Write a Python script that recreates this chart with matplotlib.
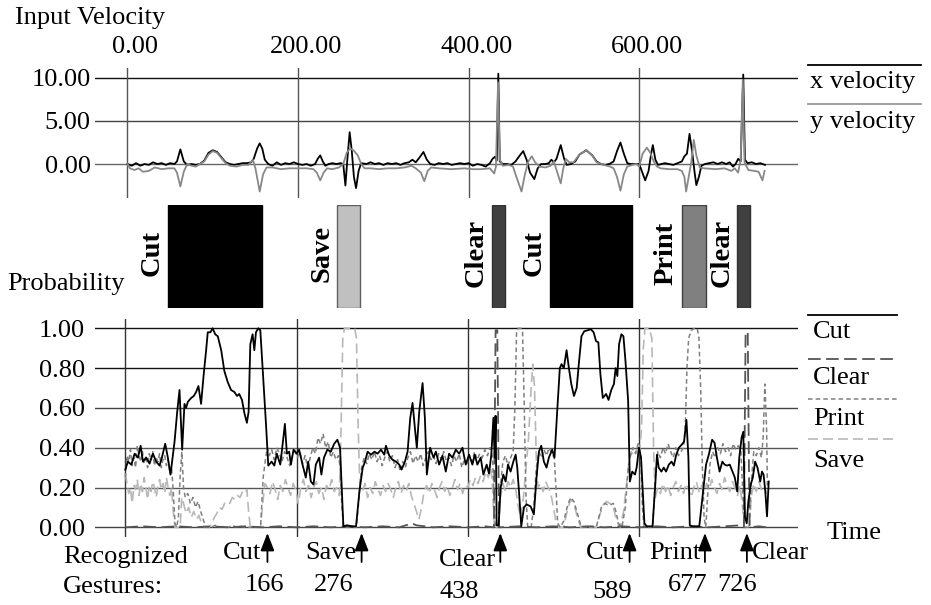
import numpy as np
import matplotlib
matplotlib.use('Agg')
import matplotlib.pyplot as plt
from matplotlib import transforms
from matplotlib.lines import Line2D

plt.rcParams['font.family'] = ['Liberation Serif', 'DejaVu Serif']
plt.rcParams['font.size'] = 19

# ---- data ----
# input velocity: (time, value)
x_vel_pts = [(0, 0.0), (5, -0.2), (10, 0.1), (15, -0.2), (20, 0.0), (25, -0.1), (30, 0.2), (35, 0.0),
             (40, 0.1), (45, -0.1), (50, 0.1), (55, 0.0), (58, 0.3), (62, 1.7), (66, 0.3), (70, -0.1),
             (75, 0.0), (80, -0.1), (85, 0.0), (90, 0.4), (95, 1.3), (100, 1.6), (105, 1.4), (110, 0.8),
             (115, 0.2), (120, 0.0), (125, -0.1), (130, 0.0), (135, 0.1), (140, 0.1), (145, 0.2), (148, 0.6),
             (152, 1.8), (155, 2.4), (158, 1.8), (161, 0.5), (165, 0.0), (170, -0.2), (175, 0.2), (180, -0.1),
             (185, 0.1), (190, 0.0), (195, 0.2), (200, 0.0), (205, -0.1), (210, 0.0), (215, -0.2), (220, 0.0),
             (223, 0.6), (226, 1.0), (229, 0.3), (232, -0.2), (236, 0.0), (240, 0.1), (245, 0.0), (250, 0.1),
             (253, 0.0), (255.5, -2.5), (258, 0.8), (260.5, 3.7), (263, 1.5), (265.5, -1.5), (268, -2.8),
             (271, -0.8), (274, 0.1), (280, 0.0), (285, 0.2), (290, 0.0), (295, 0.1), (300, -0.1), (305, 0.1),
             (310, 0.0), (315, 0.1), (320, -0.1), (325, 0.1), (330, 0.2), (334, 0.5), (338, 0.2), (342, 0.7),
             (347, 1.4), (351, 0.5), (355, 0.0), (360, -0.1), (365, 0.1), (370, 0.0), (375, 0.1), (380, -0.1),
             (385, 0.0), (390, 0.1), (395, 0.0), (400, 0.1), (405, -0.2), (410, 0.0), (415, -0.1), (420, -0.3),
             (425, 0.1), (428, 0.6), (431, 0.85), (433, 0.4), (434.8, 10.5), (436.5, 0.3), (440, 0.0),
             (445, 0.0), (450, -0.1), (455, 0.3), (460, 1.0), (464, 1.5), (468, 0.5), (472, -1.0), (477, -1.75),
             (481, -0.5), (485, 0.0), (490, 0.0), (494, 0.1), (497, 0.5), (500, 0.2), (503, 0.6), (508, 2.2),
             (512, 0.6), (515, -0.1), (520, 0.0), (525, 0.3), (530, 1.1), (538, 1.6), (545, 1.0), (550, 0.3),
             (555, 0.0), (560, -0.1), (565, 0.0), (570, 0.3), (574, 1.5), (578, 2.5), (582, 1.2), (586, 0.1),
             (590, 0.0), (595, 0.0), (600, 0.0), (603, -0.8), (607, -1.9), (611, -0.8), (614, 1.2), (616, 2.2),
             (619, 0.5), (622, -0.1), (626, 0.0), (630, 0.1), (635, 0.0), (640, -0.1), (645, 0.1), (650, 0.3),
             (653, 0.9), (656, 1.2), (659, 3.5), (662, 1.5), (665, -1.0), (667, -2.45), (670, -1.5),
             (673, -0.2), (677, 0.0), (682, 0.1), (687, 0.2), (692, 0.0), (697, 0.2), (702, 0.0), (706, 0.2),
             (710, -0.3), (713, 0.0), (716, 0.6), (719, 0.3), (722, 10.4), (724, 0.5), (727, 0.1), (732, 0.2),
             (737, 0.0), (742, 0.1), (747.5, -0.1)]

y_vel_pts = [(0, 0.0), (3, -0.5), (8, -0.7), (13, -0.5), (18, -0.9), (25, -0.8), (32, -0.4), (40, -0.6),
             (48, -0.5), (55, -0.5), (58, -1.0), (62, -2.6), (66, -0.9), (70, 0.0), (75, -0.2), (80, -0.3),
             (85, 0.0), (90, 0.3), (95, 1.1), (100, 1.5), (105, 1.3), (110, 0.7), (115, 0.1), (120, -0.2),
             (128, -0.3), (135, -0.1), (142, -0.1), (147, 0.5), (150, -0.5), (155, -3.2), (159, -1.2),
             (163, -0.4), (170, -0.4), (180, -0.6), (190, -0.5), (200, -0.5), (210, -0.5), (218, -0.6),
             (222, -1.0), (226, -1.9), (230, -1.0), (234, -0.5), (240, -0.6), (248, -0.4), (253, 0.0),
             (257, 1.3), (261, 1.8), (265, 1.6), (270, 1.0), (274, 0.0), (278, -0.5), (285, -0.5), (295, -0.6),
             (305, -0.5), (315, -0.5), (325, -0.4), (333, -0.2), (338, -0.5), (344, -1.0), (348, -2.0),
             (352, -0.8), (356, -0.4), (365, -0.5), (380, -0.6), (395, -0.5), (405, -0.6), (415, -0.6),
             (425, -0.5), (430, -1.1), (432, -0.3), (434.5, 9.5), (436.5, 0.5), (440, -0.2), (447, -0.1),
             (452, -0.3), (456, -1.5), (462, -3.2), (466, -1.2), (470, 0.3), (474, 0.9), (478, 0.2),
             (483, -0.3), (490, -0.4), (496, -0.2), (500, 0.3), (504, -1.0), (508, -2.25), (511, -0.5),
             (514, 0.6), (518, 0.2), (523, 0.2), (530, 1.1), (538, 1.6), (545, 1.0), (550, 0.2), (556, 0.0),
             (562, -0.2), (566, -0.3), (570, -0.5), (574, -1.5), (578, -3.1), (582, -1.2), (586, -0.3),
             (592, -0.1), (597, 0.0), (600, -0.3), (604, 1.2), (609, 1.9), (613, 1.3), (617, 0.3), (621, -0.3),
             (625, -0.5), (635, -0.6), (645, -0.6), (650, -0.8), (653, -1.5), (655, -3.2), (658, -1.5),
             (661, 0.2), (664, 2.8), (667, 1.0), (671, -0.4), (676, -0.5), (690, -0.6), (700, -0.5),
             (708, -0.8), (712, -0.5), (716, -1.0), (719, 0.5), (721.5, 9.8), (723.5, 0.2), (728, -0.7),
             (735, -0.8), (740, -0.9), (744.5, -1.9), (747, -0.8)]

# gesture probabilities: (time, probability)
cut_pts = [(0, 0.29), (3, 0.33), (7, 0.315), (10.9, 0.37), (14.8, 0.35), (17.9, 0.41), (20.6, 0.33),
           (24.5, 0.35), (28.3, 0.32), (32.2, 0.37), (36.1, 0.33), (40, 0.31), (42.7, 0.35), (46.6, 0.42),
           (49.7, 0.35), (52.8, 0.265), (57.5, 0.43), (60.6, 0.58), (63.3, 0.69), (66.4, 0.39), (69.1, 0.62),
           (71, 0.60), (73, 0.63), (76.9, 0.65), (80, 0.66), (82.7, 0.68), (85.4, 0.71), (88.5, 0.62),
           (91.6, 0.77), (94.4, 0.89), (96.3, 0.98), (99.4, 0.98), (102, 1.0), (105, 0.97), (108, 0.96),
           (112, 0.89), (115.7, 0.785), (119.6, 0.73), (123.5, 0.69), (127.4, 0.68), (130.5, 0.66),
           (133, 0.67), (136.3, 0.64), (139, 0.575), (142, 0.525), (144, 0.58), (146, 0.92), (148.7, 0.97),
           (150.7, 0.89), (152.6, 0.98), (155.3, 1.0), (157.7, 0.99), (160.4, 0.80), (164.3, 0.52),
           (167, 0.31), (170.9, 0.33), (174, 0.31), (177, 0.37), (181, 0.315), (183.7, 0.415), (186.4, 0.52),
           (188.7, 0.37), (191.4, 0.38), (193.4, 0.315), (196.5, 0.39), (200, 0.37), (203, 0.39),
           (207, 0.315), (210.8, 0.25), (213.6, 0.33), (216.7, 0.23), (219.8, 0.215), (222.5, 0.315),
           (226.4, 0.35), (229, 0.265), (232, 0.35), (236, 0.39), (240, 0.38), (244, 0.42), (247.7, 0.44),
           (250.8, 0.40), (254.7, 0.005), (259, 0.01), (265, 0.005), (269.5, 0.005), (273.4, 0.18),
           (277.3, 0.30), (280, 0.33), (283, 0.38), (287, 0.365), (291, 0.38), (294.7, 0.37), (298.6, 0.39),
           (302.5, 0.365), (304.4, 0.41), (308.3, 0.36), (312, 0.34), (316, 0.33), (320, 0.315),
           (322.7, 0.29), (326.6, 0.33), (329.7, 0.38), (332.8, 0.55), (335.5, 0.625), (338.2, 0.50),
           (340.5, 0.40), (343.3, 0.58), (347.2, 0.725), (349.9, 0.55), (352.2, 0.265), (356, 0.40),
           (360, 0.35), (362.7, 0.38), (366.6, 0.315), (370.4, 0.36), (374.3, 0.28), (378.2, 0.37),
           (382.1, 0.35), (386, 0.39), (389.9, 0.37), (393.8, 0.40), (397.6, 0.315), (401.5, 0.365),
           (405.4, 0.315), (408.1, 0.365), (411.2, 0.315), (415.1, 0.35), (418.2, 0.265), (422.1, 0.315),
           (424.8, 0.27), (427.5, 0.365), (429.9, 0.55), (431.4, 0.35), (432.6, 0.56), (433.7, 0.01),
           (436, 0.01), (438.4, 0.20), (441.5, 0.265), (444.2, 0.23), (447, 0.315), (450, 0.28),
           (453.2, 0.33), (455.9, 0.365), (457.8, 0.30), (459.8, 0.18), (462.5, 0.005), (465.6, 0.10),
           (468.7, 0.115), (473.4, 0.105), (477.2, 0.065), (480.3, 0.25), (483.1, 0.38), (485.8, 0.41),
           (488.9, 0.33), (492, 0.30), (494.7, 0.35), (498.6, 0.39), (501.3, 0.35), (504.4, 0.58),
           (507.5, 0.80), (509.5, 0.82), (512.2, 0.80), (515.4, 0.89), (518.1, 0.80), (520.9, 0.72),
           (524, 0.66), (527.2, 0.70), (530, 0.835), (532.8, 0.96), (536, 0.985), (539.9, 0.99),
           (543.8, 0.995), (547, 0.98), (549.8, 0.935), (552.5, 0.93), (554.9, 0.77), (557.7, 0.65),
           (561.6, 0.67), (564.4, 0.64), (567.6, 0.69), (570.7, 0.72), (572.7, 0.80), (574.7, 0.76),
           (576.7, 0.92), (579.4, 0.97), (581.8, 0.96), (584.2, 0.835), (587.3, 0.635), (589.3, 0.23),
           (592.1, 0.28), (595.3, 0.265), (597.2, 0.30), (600, 0.40), (602.4, 0.35), (604, 0.215),
           (606.3, 0.02), (609.1, 0.005), (615.8, 0.005), (619, 0.215), (621, 0.365), (623, 0.30),
           (626.1, 0.28), (628.9, 0.30), (631.6, 0.28), (634.8, 0.315), (638, 0.33), (640.7, 0.31),
           (643.5, 0.365), (646.7, 0.40), (649.8, 0.415), (652.6, 0.43), (655.4, 0.54), (657.7, 0.35),
           (659.3, 0.01), (662.5, 0.005), (670.4, 0.005), (674.4, 0.16), (678.3, 0.315), (681.5, 0.365),
           (685.4, 0.44), (688.2, 0.425), (691, 0.35), (694.1, 0.28), (697.3, 0.33), (700, 0.315),
           (702.8, 0.31), (706, 0.315), (709.2, 0.28), (711.9, 0.25), (714.7, 0.18), (717.1, 0.35),
           (719.8, 0.45), (721.8, 0.48), (723.8, 0.05), (725.8, 0.02), (727.7, 0.13), (730.5, 0.215),
           (732.9, 0.25), (735.6, 0.33), (738.4, 0.30), (741.6, 0.23), (743.6, 0.28), (745.5, 0.265),
           (747.5, 0.18), (749.5, 0.055), (751.5, 0.23)]

clear_pts = [(0, 0.0), (20, 0.005), (40, 0.0), (60, 0.005), (80, 0.0), (100, 0.005), (120, 0.0),
             (140, 0.005), (160, 0.0), (180, 0.005), (200, 0.0), (220, 0.005), (240, 0.0), (260, 0.005),
             (280, 0.0), (300, 0.005), (320, 0.0), (335, 0.02), (340, 0.01), (360, 0.0), (380, 0.005),
             (400, 0.0), (420, 0.005), (430.5, 0.0), (431.5, 0.5), (432.5, 0.99), (434.5, 0.99), (435.5, 0.5),
             (436.5, 0.0), (460, 0.005), (480, 0.0), (500, 0.005), (520, 0.0), (540, 0.005), (560, 0.0),
             (580, 0.005), (600, 0.0), (620, 0.005), (640, 0.0), (660, 0.005), (680, 0.0), (700, 0.005),
             (718, 0.01), (722.5, 0.0), (723.5, 0.5), (724.5, 0.98), (727, 0.98), (728, 0.5), (729, 0.0),
             (740, 0.005), (749, 0.0)]

print_pts = [(0, 0.25), (2, 0.36), (4, 0.33), (6, 0.39), (8, 0.31), (10, 0.35), (12, 0.30), (14, 0.41),
             (16, 0.36), (18, 0.33), (20, 0.38), (22, 0.32), (24, 0.36), (26, 0.30), (28, 0.37), (30, 0.34),
             (32, 0.38), (34, 0.31), (36, 0.35), (38, 0.33), (40, 0.37), (42, 0.30), (44, 0.34), (46, 0.36),
             (48, 0.31), (50, 0.34), (52, 0.27), (54, 0.30), (56, 0.18), (58, 0.02), (60, 0.0), (62, 0.05),
             (64, 0.25), (66, 0.38), (68, 0.20), (70, 0.15), (73, 0.17), (76, 0.12), (79, 0.15), (82, 0.10),
             (85, 0.13), (88, 0.08), (91, 0.04), (94, 0.0), (100, 0.0), (105, 0.01), (110, 0.0), (115, 0.005),
             (120, 0.0), (125, 0.01), (130, 0.0), (135, 0.005), (140, 0.0), (158, 0.0), (161, 0.25),
             (164, 0.35), (166, 0.40), (168, 0.36), (171, 0.39), (174, 0.34), (177, 0.40), (180, 0.37),
             (183, 0.33), (186, 0.38), (189, 0.35), (192, 0.31), (195, 0.36), (198, 0.40), (201, 0.35),
             (204, 0.38), (207, 0.32), (210, 0.36), (213, 0.30), (216, 0.35), (219, 0.40), (222, 0.37),
             (225, 0.45), (228, 0.42), (231, 0.47), (234, 0.40), (237, 0.43), (240, 0.35), (243, 0.38),
             (246, 0.34), (249, 0.36), (251, 0.30), (253, 0.10), (255, 0.0), (270, 0.0), (273, 0.15),
             (276, 0.30), (279, 0.35), (282, 0.32), (285, 0.37), (288, 0.34), (291, 0.38), (294, 0.33),
             (297, 0.36), (300, 0.31), (303, 0.35), (306, 0.38), (309, 0.33), (312, 0.36), (315, 0.30),
             (318, 0.34), (321, 0.28), (324, 0.33), (327, 0.30), (330, 0.35), (333, 0.38), (336, 0.32),
             (339, 0.36), (342, 0.33), (345, 0.37), (348, 0.31), (351, 0.35), (354, 0.38), (357, 0.34),
             (360, 0.36), (363, 0.32), (366, 0.37), (369, 0.34), (372, 0.38), (375, 0.33), (378, 0.35),
             (381, 0.31), (384, 0.36), (387, 0.33), (390, 0.37), (393, 0.30), (396, 0.34), (399, 0.32),
             (402, 0.36), (405, 0.33), (408, 0.38), (411, 0.34), (414, 0.37), (417, 0.35), (420, 0.39),
             (423, 0.36), (426, 0.40), (429, 0.35), (431, 0.10), (432, 0.0), (436, 0.0), (438, 0.20),
             (441, 0.33), (444, 0.36), (447, 0.31), (450, 0.35), (453, 0.38), (455, 0.60), (457, 0.98),
             (459, 1.0), (462, 1.0), (464, 0.98), (466, 0.60), (468, 0.15), (470, 0.0), (474, 0.0),
             (477, 0.10), (480, 0.30), (483, 0.38), (486, 0.35), (489, 0.39), (492, 0.36), (495, 0.40),
             (498, 0.37), (501, 0.35), (503, 0.20), (505, 0.02), (508, 0.0), (512, 0.03), (516, 0.10),
             (520, 0.15), (524, 0.13), (528, 0.07), (532, 0.01), (536, 0.0), (545, 0.005), (550, 0.0),
             (553, 0.05), (556, 0.10), (560, 0.12), (565, 0.11), (570, 0.12), (573, 0.08), (576, 0.02),
             (580, 0.0), (584, 0.10), (587, 0.28), (590, 0.36), (593, 0.40), (596, 0.37), (599, 0.42),
             (602, 0.35), (604, 0.10), (606, 0.0), (616, 0.0), (619, 0.25), (622, 0.38), (625, 0.35),
             (628, 0.40), (631, 0.37), (634, 0.42), (637, 0.38), (640, 0.35), (643, 0.40), (646, 0.36),
             (649, 0.38), (652, 0.40), (654, 0.50), (656, 0.80), (658, 0.95), (661, 0.99), (665, 1.0),
             (668, 1.0), (670, 0.95), (672, 0.70), (674, 0.30), (676, 0.05), (678, 0.0), (680, 0.15),
             (683, 0.32), (686, 0.38), (689, 0.35), (692, 0.40), (695, 0.37), (698, 0.42), (701, 0.38),
             (704, 0.40), (707, 0.36), (710, 0.42), (713, 0.39), (716, 0.41), (719, 0.38), (721, 0.20),
             (723, 0.0), (729, 0.0), (731, 0.22), (734, 0.38), (737, 0.36), (740, 0.40), (743, 0.35),
             (745, 0.45), (747, 0.72), (749, 0.50), (750, 0.20)]

save_pts = [(0, 0.27), (2, 0.22), (4, 0.17), (6, 0.20), (8, 0.12), (10, 0.21), (12, 0.19), (14, 0.24),
            (16, 0.16), (18, 0.22), (20, 0.18), (22, 0.25), (24, 0.20), (26, 0.14), (28, 0.21), (30, 0.18),
            (32, 0.23), (34, 0.20), (36, 0.15), (38, 0.20), (40, 0.24), (42, 0.19), (44, 0.22), (46, 0.17),
            (48, 0.25), (50, 0.20), (52, 0.16), (54, 0.20), (56, 0.08), (58, 0.0), (64, 0.0), (66, 0.15),
            (68, 0.12), (71, 0.07), (74, 0.10), (77, 0.05), (80, 0.08), (83, 0.04), (86, 0.06), (89, 0.02),
            (92, 0.0), (98, 0.0), (101, 0.02), (104, 0.05), (107, 0.07), (110, 0.10), (113, 0.09),
            (116, 0.12), (119, 0.13), (122, 0.12), (125, 0.15), (128, 0.14), (131, 0.16), (134, 0.15),
            (137, 0.18), (140, 0.17), (142, 0.19), (144, 0.08), (146, 0.0), (158, 0.0), (160, 0.10),
            (163, 0.22), (166, 0.20), (169, 0.17), (172, 0.23), (175, 0.19), (178, 0.14), (181, 0.21),
            (184, 0.18), (187, 0.24), (190, 0.20), (193, 0.16), (196, 0.22), (199, 0.19), (202, 0.12),
            (205, 0.20), (208, 0.24), (211, 0.18), (214, 0.21), (217, 0.15), (220, 0.20), (223, 0.23),
            (226, 0.17), (229, 0.20), (232, 0.14), (235, 0.21), (238, 0.19), (241, 0.24), (244, 0.18),
            (247, 0.20), (250, 0.16), (252, 0.50), (254, 0.95), (256, 1.0), (262, 1.0), (268, 1.0),
            (270, 0.95), (272, 0.50), (274, 0.20), (277, 0.18), (280, 0.22), (283, 0.15), (286, 0.20),
            (289, 0.17), (292, 0.23), (295, 0.19), (298, 0.16), (301, 0.21), (304, 0.18), (307, 0.22),
            (310, 0.19), (313, 0.15), (316, 0.20), (319, 0.23), (322, 0.17), (325, 0.21), (328, 0.18),
            (331, 0.22), (334, 0.16), (337, 0.12), (340, 0.08), (343, 0.04), (346, 0.10), (349, 0.18),
            (352, 0.21), (355, 0.17), (358, 0.22), (361, 0.19), (364, 0.15), (367, 0.20), (370, 0.23),
            (373, 0.18), (376, 0.21), (379, 0.16), (382, 0.20), (385, 0.24), (388, 0.19), (391, 0.22),
            (394, 0.17), (397, 0.21), (400, 0.20), (403, 0.24), (406, 0.21), (409, 0.25), (412, 0.22),
            (415, 0.26), (418, 0.23), (421, 0.28), (424, 0.25), (427, 0.30), (429, 0.20), (431, 0.0),
            (436, 0.0), (438, 0.15), (441, 0.22), (444, 0.18), (447, 0.23), (450, 0.20), (453, 0.24),
            (456, 0.19), (459, 0.10), (462, 0.05), (465, 0.15), (468, 0.30), (471, 0.45), (474, 0.70),
            (476, 0.82), (478, 0.70), (480, 0.35), (482, 0.20), (485, 0.22), (488, 0.18), (491, 0.23),
            (494, 0.20), (497, 0.17), (500, 0.10), (503, 0.03), (506, 0.0), (512, 0.0), (516, 0.08),
            (520, 0.14), (524, 0.12), (528, 0.05), (532, 0.0), (550, 0.0), (554, 0.06), (558, 0.11),
            (562, 0.13), (566, 0.12), (570, 0.10), (574, 0.03), (578, 0.0), (582, 0.08), (585, 0.20),
            (588, 0.32), (591, 0.38), (594, 0.36), (597, 0.39), (600, 0.35), (603, 0.50), (605, 0.90),
            (607, 1.0), (612, 1.0), (615, 0.95), (617, 0.40), (619, 0.15), (622, 0.20), (625, 0.17),
            (628, 0.22), (631, 0.18), (634, 0.21), (637, 0.16), (640, 0.20), (643, 0.23), (646, 0.18),
            (649, 0.21), (652, 0.17), (655, 0.22), (658, 0.19), (661, 0.15), (664, 0.20), (667, 0.23),
            (670, 0.18), (673, 0.21), (676, 0.17), (679, 0.22), (682, 0.19), (685, 0.24), (688, 0.20),
            (691, 0.17), (694, 0.22), (697, 0.19), (700, 0.25), (703, 0.21), (706, 0.18), (709, 0.23),
            (712, 0.20), (715, 0.16), (718, 0.21), (721, 0.10), (723, 0.0), (729, 0.0), (731, 0.15),
            (734, 0.22), (737, 0.18), (740, 0.23), (743, 0.19), (746, 0.21), (749, 0.17)]

# gesture segments (bars) and recognition times
gest_names = ['Cut', 'Save', 'Clear', 'Cut', 'Print', 'Clear']
gest_start = [47, 246, 427, 495, 650, 715]
gest_end = [158, 273, 443, 592, 678, 730]
rec_time = [166, 276, 438, 589, 677, 726]

vel_ticks = [0, 5, 10]
prob_ticks = [0.0, 0.2, 0.4, 0.6, 0.8, 1.0]
time_ticks = [0, 200, 400, 600]

# ---- styles ----
bar_face = ['black', '#c0c0c0', '#404040', 'black', '#808080', '#404040']
bar_edge = ['black', '#606060', '#303030', 'black', '#404040', '#303030']
series_style = {
    'Cut': dict(color='black', ls='-', lw=1.3),
    'Clear': dict(color='#555555', ls=(0, (7, 3)), lw=1.3),
    'Print': dict(color='#808080', ls=(0, (3, 2)), lw=1.1),
    'Save': dict(color='#b8b8b8', ls=(0, (6, 3)), lw=1.2),
}

W, H = 931, 605


def fx(x):
    return x / W


def fy(y):
    return 1 - y / H


fig = plt.figure(figsize=(W / 100, H / 100), dpi=100)

ax_v = fig.add_axes([fx(95), fy(198), 703 / W, 130 / H])
ax_g = fig.add_axes([fx(95), fy(308), 703 / W, 103 / H])
ax_p = fig.add_axes([fx(95), fy(537), 703 / W, 218 / H])

for ax in (ax_v, ax_g, ax_p):
    for s in ax.spines.values():
        s.set_visible(False)

# ---- velocity panel ----
ax_v.set_xlim(-38.1, 786.2)
ax_v.set_ylim(-3.95, 11.16)
for v, c in zip(vel_ticks, ['#666666', '#444444', '#111111']):
    ax_v.axhline(v, color=c, lw=1, zorder=1)
for t in time_ticks:
    ax_v.axvline(t, color='#555555', lw=1, zorder=1)
xt, xv = np.array(x_vel_pts).T
yt, yv = np.array(y_vel_pts).T
ax_v.plot(xt, xv, color='black', lw=1.3, zorder=3)
ax_v.plot(yt, yv, color='#888888', lw=1.3, zorder=4)
ax_v.set_yticks(vel_ticks)
ax_v.set_yticklabels(['%.2f' % v for v in vel_ticks])
ax_v.set_xticks([])
ax_v.tick_params(axis='y', length=0, pad=3)
for t in time_ticks:
    ax_v.annotate('%.2f' % t, xy=(t, 1), xycoords=('data', 'axes fraction'),
                  xytext=(8, 15), textcoords='offset pixels', ha='center', va='baseline')

# ---- gesture bars ----
ax_g.set_xlim(-38.1, 786.2)
ax_g.set_ylim(0, 1)
ax_g.set_xticks([])
ax_g.set_yticks([])
for name, s, e, fc, ec in zip(gest_names, gest_start, gest_end, bar_face, bar_edge):
    ax_g.bar(s, 1, width=e - s, align='edge', color=fc, edgecolor=ec, lw=1)
    ax_g.annotate(name, xy=(s, 0.53), xytext=(-3, 0), textcoords='offset pixels',
                  rotation=90, ha='right', va='center', fontsize=20.5, fontweight='bold')

# ---- probability panel ----
ax_p.set_xlim(-35.4, 785.7)
ax_p.set_ylim(-0.0487, 1.0467)
for v, c in zip(prob_ticks, ['#444444', '#555555', '#555555', '#444444', '#111111', '#111111']):
    ax_p.axhline(v, color=c, lw=1, zorder=1)
for t in time_ticks:
    ax_p.axvline(t, color='#333333', lw=1, zorder=1)
for name, pts in [('Save', save_pts), ('Print', print_pts), ('Clear', clear_pts), ('Cut', cut_pts)]:
    t, p = np.array(pts).T
    ax_p.plot(t, p, zorder=3, **series_style[name])
ax_p.set_yticks(prob_ticks)
ax_p.set_yticklabels(['%.2f' % v for v in prob_ticks])
ax_p.set_xticks([])
ax_p.tick_params(axis='y', length=0, pad=7)

# recognized gestures: arrows and labels
blend = transforms.blended_transform_factory(ax_p.transData, fig.transFigure)
name_dx = [-6, -5, -4, -5, -4, 5]
name_base = [559, 559, 566, 559, 559, 559]
num_dx = [-3, -28, -41, -17, -17, -10]
num_base = [591, 591, 598, 598, 591, 591]
for i, (name, t) in enumerate(zip(gest_names, rec_time)):
    ax_p.annotate('', xy=(t, fy(533)), xycoords=blend, xytext=(t, fy(562)), textcoords=blend,
                  arrowprops=dict(arrowstyle='-|>,head_length=0.9,head_width=0.35', color='black',
                                  lw=1.3, shrinkA=0, shrinkB=0, mutation_scale=12),
                  annotation_clip=False)
    ax_p.annotate(name, xy=(t, fy(name_base[i])), xycoords=blend, xytext=(name_dx[i], 0),
                  textcoords='offset pixels', ha='right' if name_dx[i] < 0 else 'left',
                  va='baseline', annotation_clip=False)
    ax_p.annotate(str(t), xy=(t, fy(num_base[i])), xycoords=blend, xytext=(num_dx[i], 0),
                  textcoords='offset pixels', ha='center', va='baseline', annotation_clip=False)

# ---- titles and legends ----
fig.text(fx(15), fy(24), 'Input Velocity', ha='left', va='baseline')
fig.text(fx(7), fy(290), 'Probability', ha='left', va='baseline')
fig.text(fx(63), fy(563), 'Recognized', ha='left', va='baseline')
fig.text(fx(63), fy(593), 'Gestures:', ha='left', va='baseline')
fig.text(fx(827), fy(539), 'Time', ha='left', va='baseline')

fig.add_artist(Line2D([fx(808), fx(921)], [fy(65), fy(65)], color='black', lw=1.3))
fig.text(fx(810), fy(88), 'x velocity', ha='left', va='baseline')
fig.add_artist(Line2D([fx(808), fx(921)], [fy(104), fy(104)], color='#999999', lw=1.3))
fig.text(fx(810), fy(128), 'y velocity', ha='left', va='baseline')

for name, ly, ty in [('Cut', 315, 338), ('Clear', 359, 384), ('Print', 399, 425), ('Save', 439, 467)]:
    fig.add_artist(Line2D([fx(808), fx(897)], [fy(ly), fy(ly)], **series_style[name]))
    fig.text(fx(813), fy(ty), name, ha='left', va='baseline')

fig.savefig('out.png', dpi=100)
